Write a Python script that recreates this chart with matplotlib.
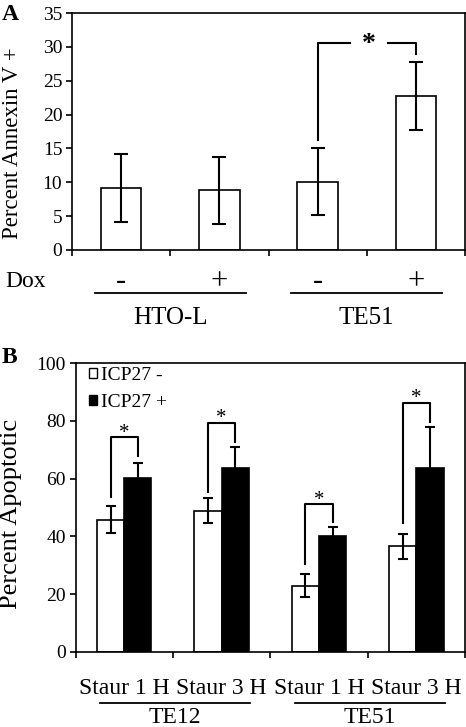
import matplotlib
matplotlib.use('Agg')
import matplotlib.pyplot as plt
import matplotlib.transforms as mtransforms
from matplotlib.patches import Patch

plt.rcParams['font.family'] = ['Liberation Serif', 'DejaVu Serif']

# panel A data
dox_labels = ['-', '+', '-', '+']
groups_a = ['HTO-L', 'TE51']
annexin = [9.2, 8.8, 10.1, 22.7]
annexin_err = [5.0, 5.0, 5.0, 5.0]

# panel B data
staur_labels = ['Staur 1 H', 'Staur 3 H', 'Staur 1 H', 'Staur 3 H']
groups_b = ['TE12', 'TE51']
icp_neg = [45.8, 48.9, 23.0, 36.6]
icp_neg_err = [4.6, 4.3, 4.0, 4.3]
icp_pos = [60.2, 63.8, 40.1, 63.8]
icp_pos_err = [5.1, 7.0, 3.1, 14.0]

fig = plt.figure(figsize=(4.66, 7.27), dpi=100)
W, H = 466.0, 727.0


def style_axis(ax):
    for s in ax.spines.values():
        s.set_linewidth(1.2)
    ax.tick_params(axis='both', direction='out', length=4, width=1.2, labelsize=14)
    ax.tick_params(axis='x', labelbottom=False)
    ax.tick_params(axis='y', pad=3)


# ---------- panel A ----------
axa = fig.add_axes([72 / W, 1 - 250 / H, 393 / W, 237 / H])
xa = list(range(len(annexin)))
axa.bar(xa, annexin, width=0.41, color='white', edgecolor='black', linewidth=1.2,
        yerr=annexin_err, error_kw=dict(ecolor='black', elinewidth=1.5, capsize=5, capthick=1.5))
axa.set_xlim(-0.5, 3.5)
axa.set_ylim(0, 35)
axa.set_yticks(range(0, 36, 5))
axa.set_xticks([-0.5, 0.5, 1.5, 2.5, 3.5])
style_axis(axa)
fig.text(12.5 / W, 1 - 143.5 / H, 'Percent Annexin V +', rotation=90,
         ha='center', va='center', fontsize=16.5)

# significance bracket
axa.plot([2, 2, 2.33], [16.2, 30.5, 30.5], color='black', lw=1.5)
axa.plot([2.72, 3, 3], [30.5, 30.5, 29.0], color='black', lw=1.5)
axa.text(2.52, 30.3, '*', ha='center', va='center', fontsize=20, fontweight='bold')

ta = mtransforms.blended_transform_factory(axa.transData, axa.transAxes)
for i, lab in enumerate(dox_labels):
    axa.text(xa[i], -0.135, lab, transform=ta, ha='center', va='center', fontsize=22)
for g, lab in enumerate(groups_a):
    c = 0.5 + 2 * g
    axa.plot([c - 0.77, c + 0.77], [-0.181, -0.181], transform=ta, color='black',
             lw=1.3, clip_on=False)
    axa.text(c, -0.287, lab, transform=ta, ha='center', va='center', fontsize=18)
fig.text(5 / W, 1 - 282 / H, 'Dox', ha='left', va='center', fontsize=17)
fig.text(2 / W, 1 - 14 / H, 'A', ha='left', va='center', fontsize=17, fontweight='bold')

# ---------- panel B ----------
axb = fig.add_axes([75.5 / W, 1 - 652 / H, 389.5 / W, 289 / H])
xb = list(range(len(icp_neg)))
off = 0.14
bw = 0.28
ekw = dict(ecolor='black', elinewidth=1.5, capsize=3.5, capthick=1.5)
axb.bar([x - off for x in xb], icp_neg, width=bw, color='white', edgecolor='black',
        linewidth=1.2, yerr=icp_neg_err, error_kw=ekw, label='ICP27 -')
axb.bar([x + off for x in xb], icp_pos, width=bw, color='black', edgecolor='black',
        linewidth=1.2, yerr=icp_pos_err, error_kw=ekw, label='ICP27 +')
axb.set_xlim(-0.5, 3.5)
axb.set_ylim(0, 100)
axb.set_yticks(range(0, 101, 20))
axb.set_xticks([-0.5, 0.5, 1.5, 2.5, 3.5])
style_axis(axb)
fig.text(11 / W, 1 - 513.5 / H, 'Percent Apoptotic', rotation=90,
         ha='center', va='center', fontsize=19)

# brackets: (left start, top, right end)
brackets = [(53.6, 74.4, 67.8), (55.5, 79.4, 72.8), (30.4, 51.2, 45.1), (44.5, 86.3, 79.7)]
for x, (lo, top, ro) in zip(xb, brackets):
    axb.plot([x - off, x - off, x + off, x + off], [lo, top, top, ro], color='black', lw=1.5)
    axb.text(x, top + 1.3, '*', ha='center', va='center', fontsize=15)

handles = [Patch(facecolor='white', edgecolor='black', linewidth=1.0),
           Patch(facecolor='black', edgecolor='black', linewidth=1.0)]
axb.legend(handles, ['ICP27 -', 'ICP27 +'], loc='upper left', bbox_to_anchor=(0.035, 0.985),
           frameon=False, fontsize=14, handlelength=0.4, handleheight=0.4,
           handletextpad=0.2, labelspacing=0.5, borderpad=0, borderaxespad=0)

tb = mtransforms.blended_transform_factory(axb.transData, axb.transAxes)
for i, lab in enumerate(staur_labels):
    axb.text(xb[i], -0.125, lab, transform=tb, ha='center', va='center', fontsize=17)
for g, lab in enumerate(groups_b):
    c = 0.52 + 2 * g
    axb.plot([c - 0.77, c + 0.77], [-0.176, -0.176], transform=tb, color='black',
             lw=1.3, clip_on=False)
    axb.text(c, -0.228, lab, transform=tb, ha='center', va='center', fontsize=17)
fig.text(2 / W, 1 - 357 / H, 'B', ha='left', va='center', fontsize=17, fontweight='bold')

fig.savefig('out.png', dpi=100)
